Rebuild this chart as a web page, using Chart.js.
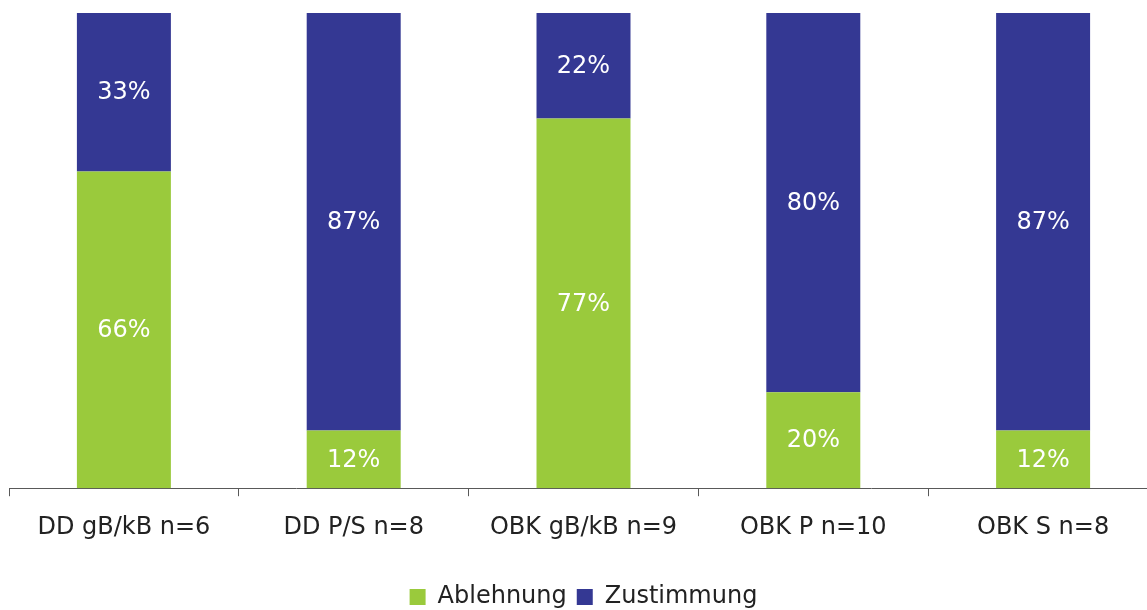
<!DOCTYPE html>
<html>
<head>
<meta charset="utf-8">
<script src="https://cdn.jsdelivr.net/npm/chart.js@4/dist/chart.umd.min.js"></script>
<style>
  html, body { margin: 0; padding: 0; background: #fff; overflow: hidden; }
  body { width: 1147px; height: 610px; }
  /* the plot runs slightly past the right and bottom edges of the page */
  #wrap { width: 1158px; height: 619px; position: relative; }
</style>
</head>
<body>
<div id="wrap"><canvas id="chart"></canvas></div>
<script>
const categories = ['DD gB/kB n=6', 'DD P/S n=8', 'OBK gB/kB n=9', 'OBK P n=10', 'OBK S n=8'];
const ablehnung = [66, 12, 77, 20, 12];
const zustimmung = [33, 87, 22, 80, 87];
const seriesNames = ['Ablehnung', 'Zustimmung'];

const GREEN = '#9aca3c';
const BLUE = '#343893';
const FONT = '"DejaVu Sans"';

// Writes each segment's percentage in white at the middle of the visible segment
const segmentLabels = {
  id: 'segmentLabels',
  afterDatasetsDraw(chart) {
    const { ctx, chartArea } = chart;
    ctx.save();
    ctx.fillStyle = '#ffffff';
    ctx.font = '24px ' + FONT;
    ctx.textAlign = 'center';
    ctx.textBaseline = 'middle';
    chart.data.datasets.forEach((ds, di) => {
      const meta = chart.getDatasetMeta(di);
      meta.data.forEach((bar, i) => {
        const { x, y, base } = bar.getProps(['x', 'y', 'base'], true);
        const top = Math.max(Math.min(y, base), chartArea.top);
        const bottom = Math.min(Math.max(y, base), chartArea.bottom);
        ctx.fillText(ds.data[i] + '%', x, (top + bottom) / 2 + 1);
      });
    });
    ctx.restore();
  }
};

new Chart(document.getElementById('chart'), {
  type: 'bar',
  data: {
    labels: categories,
    datasets: [
      { label: seriesNames[0], data: ablehnung, backgroundColor: GREEN, borderWidth: 0 },
      { label: seriesNames[1], data: zustimmung, backgroundColor: BLUE, borderWidth: 0 }
    ]
  },
  options: {
    responsive: true,
    maintainAspectRatio: false,
    animation: false,
    layout: { padding: { left: 9, right: 0, top: 13, bottom: 0 } },
    datasets: { bar: { categoryPercentage: 1, barPercentage: 0.409 } },
    scales: {
      x: {
        stacked: true,
        offset: true,
        grid: {
          display: true,
          drawOnChartArea: false,
          drawTicks: true,
          tickLength: 8,
          offset: true,
          color: '#595959'
        },
        border: { display: true, color: '#595959', width: 1 },
        ticks: { color: '#222', font: { family: FONT, size: 24 }, padding: 17, maxRotation: 0 },
        // leave room between the category names and the legend
        afterFit(scale) { scale.height += 16; }
      },
      y: {
        stacked: true,
        display: false,
        min: 0,
        max: 99
      }
    },
    plugins: {
      legend: {
        position: 'bottom',
        labels: {
          color: '#222',
          font: { family: FONT, size: 24 },
          boxWidth: 16,
          boxHeight: 16,
          padding: 10
        }
      },
      tooltip: { enabled: false }
    }
  },
  plugins: [segmentLabels]
});
</script>
</body>
</html>
